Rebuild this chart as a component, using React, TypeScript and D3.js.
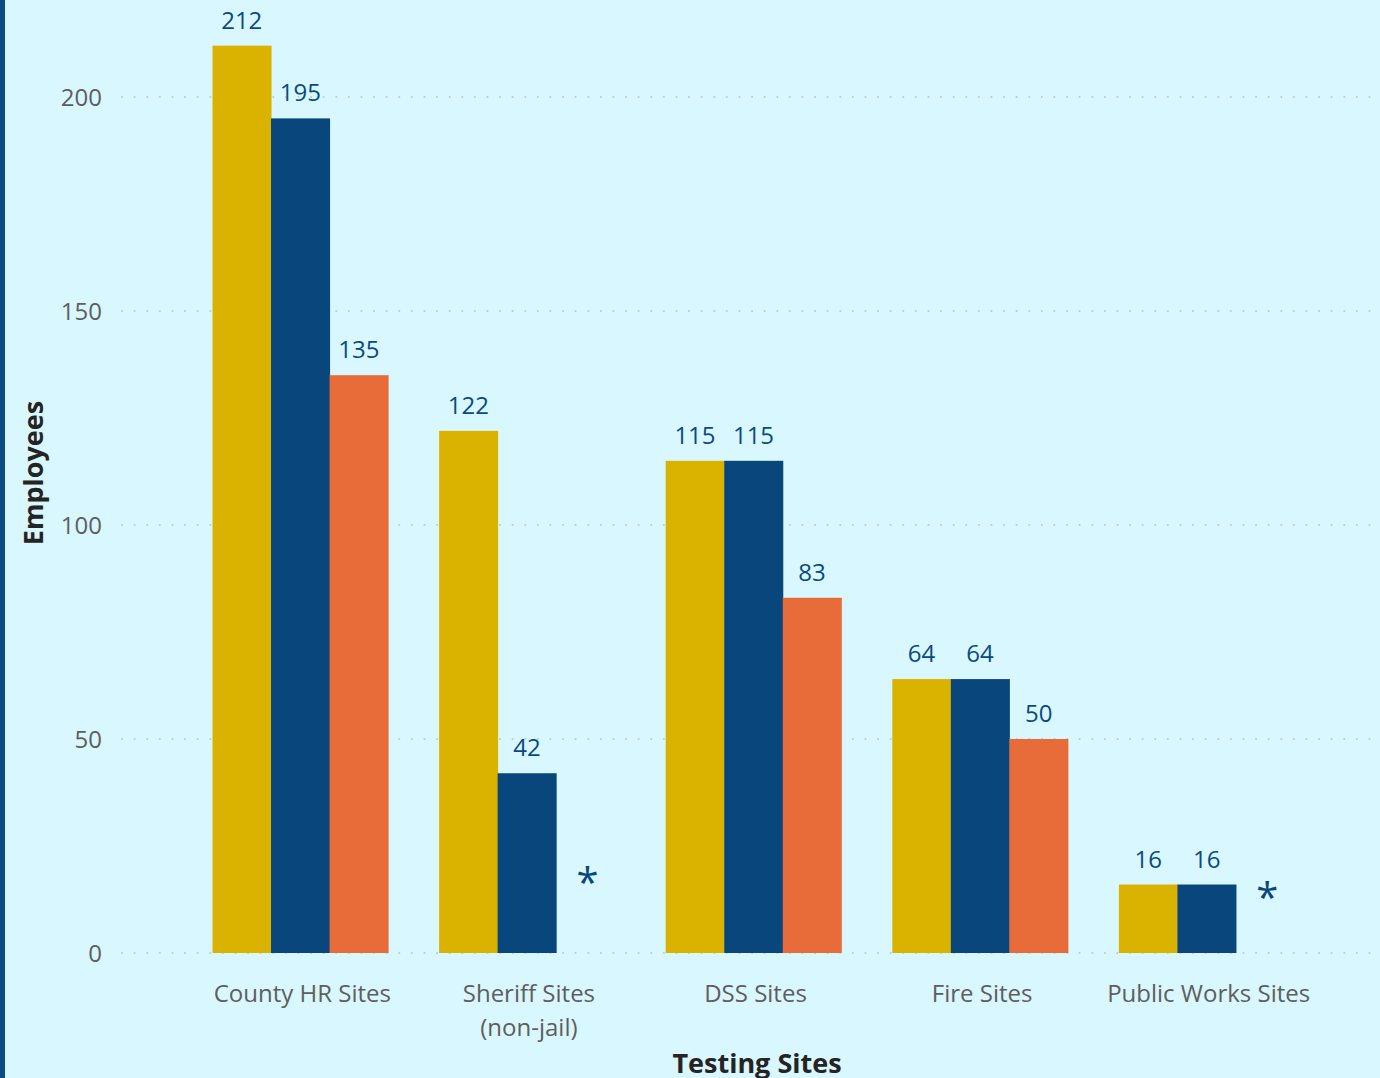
import * as d3 from "d3";
import { useEffect, useRef } from "react";

const categories = [
	"County HR Sites",
	"Sheriff Sites\n(non-jail)",
	"DSS Sites",
	"Fire Sites",
	"Public Works Sites",
];
const seriesNames = ["Series A", "Series B", "Series C"];
const seriesA = [212, 122, 115, 64, 16];
const seriesB = [195, 42, 115, 64, 16];
const seriesC: (number | null)[] = [135, null, 83, 50, null];
// asterisk marks where a series has no value (category index, height in employees)
const asteriskMarks = [
	{ cat: 1, value: 17 },
	{ cat: 4, value: 13.5 },
];
const yTicks = [0, 50, 100, 150, 200];
const colors = ["#d9b300", "#08467c", "#e76c3a"];

const width = 1380;
const height = 1078;
const font = "'Segoe UI', 'Open Sans', 'Noto Sans', sans-serif";

function App() {
	const ref = useRef<SVGSVGElement>(null);

	useEffect(() => {
		const svg = d3.select(ref.current);
		svg.selectAll("*").remove();

		svg.append("rect").attr("width", width).attr("height", height).attr("fill", "#d9f7fe");
		svg.append("rect").attr("width", 5).attr("height", height).attr("fill", "#0a4a85");

		const x = d3.scaleBand<number>().domain(d3.range(categories.length)).range([187, 1320]).paddingInner(0.225).paddingOuter(0.1125);
		const xs = d3.scaleBand<number>().domain([0, 1, 2]).range([0, x.bandwidth()]);
		const y = d3.scaleLinear().domain([0, 200]).range([953, 97]);

		// gridlines
		svg.append("g")
			.selectAll("line")
			.data(yTicks)
			.enter()
			.append("line")
			.attr("x1", 122)
			.attr("x2", width)
			.attr("y1", (d) => y(d))
			.attr("y2", (d) => y(d))
			.attr("stroke", "#c4c8c8")
			.attr("stroke-width", 2)
			.attr("stroke-linecap", "round")
			.attr("stroke-dasharray", "0.1 12.5");

		svg.append("g")
			.selectAll("text")
			.data(yTicks)
			.enter()
			.append("text")
			.attr("x", 102)
			.attr("y", (d) => y(d))
			.attr("dy", "0.36em")
			.attr("text-anchor", "end")
			.style("font-family", font)
			.style("font-size", "24px")
			.attr("fill", "#605e5c")
			.text((d) => d);

		const series = [seriesA, seriesB, seriesC];
		const bars: { cat: number; s: number; v: number }[] = [];
		series.forEach((vals, s) =>
			vals.forEach((v, cat) => {
				if (v !== null) bars.push({ cat, s, v });
			})
		);

		const g = svg.append("g");
		g.selectAll("rect")
			.data(bars)
			.enter()
			.append("rect")
			.attr("x", (d) => x(d.cat)! + xs(d.s)!)
			.attr("width", xs.bandwidth() + 0.5)
			.attr("y", (d) => y(d.v))
			.attr("height", (d) => y(0) - y(d.v))
			.attr("fill", (d) => colors[d.s]);

		g.selectAll("text")
			.data(bars)
			.enter()
			.append("text")
			.attr("x", (d) => x(d.cat)! + xs(d.s)! + xs.bandwidth() / 2)
			.attr("y", (d) => y(d.v) - 17)
			.attr("text-anchor", "middle")
			.style("font-family", font)
			.style("font-size", "24px")
			.attr("fill", "#0b4a80")
			.text((d) => d.v);

		svg.append("g")
			.selectAll("text")
			.data(asteriskMarks)
			.enter()
			.append("text")
			.attr("x", (d) => x(d.cat)! + xs(2)! + xs.bandwidth() / 2 + 2)
			.attr("y", (d) => y(d.value))
			.attr("dy", "0.42em")
			.attr("text-anchor", "middle")
			.style("font-family", font)
			.style("font-size", "40px")
			.attr("fill", "#08467c")
			.text("*");

		const cats = svg.append("g")
			.selectAll("text")
			.data(categories)
			.enter()
			.append("text")
			.attr("x", (_, i) => x(i)! + x.bandwidth() / 2 + 2)
			.attr("y", 1002)
			.attr("text-anchor", "middle")
			.style("font-family", font)
			.style("font-size", "24px")
			.attr("fill", "#605e5c");
		cats.each(function (d) {
			const t = d3.select(this);
			d.split("\n").forEach((line, i) => {
				t.append("tspan")
					.attr("x", t.attr("x"))
					.attr("dy", i === 0 ? 0 : 34)
					.text(line);
			});
		});

		svg.append("text")
			.attr("x", 757)
			.attr("y", 1073)
			.attr("text-anchor", "middle")
			.style("font-family", font)
			.style("font-size", "27px")
			.style("font-weight", "bold")
			.attr("fill", "#252423")
			.text("Testing Sites");

		svg.append("text")
			.attr("transform", "translate(43,473) rotate(-90)")
			.attr("text-anchor", "middle")
			.style("font-family", font)
			.style("font-size", "27px")
			.style("font-weight", "bold")
			.attr("fill", "#252423")
			.text("Employees");

		svg.attr("aria-label", seriesNames.join(", "));
	}, []);

	return (
		<div>
			<style>{"body{margin:0}"}</style>
			<svg ref={ref} width={width} height={height} style={{ display: "block" }} />
		</div>
	);
}

export default App;
